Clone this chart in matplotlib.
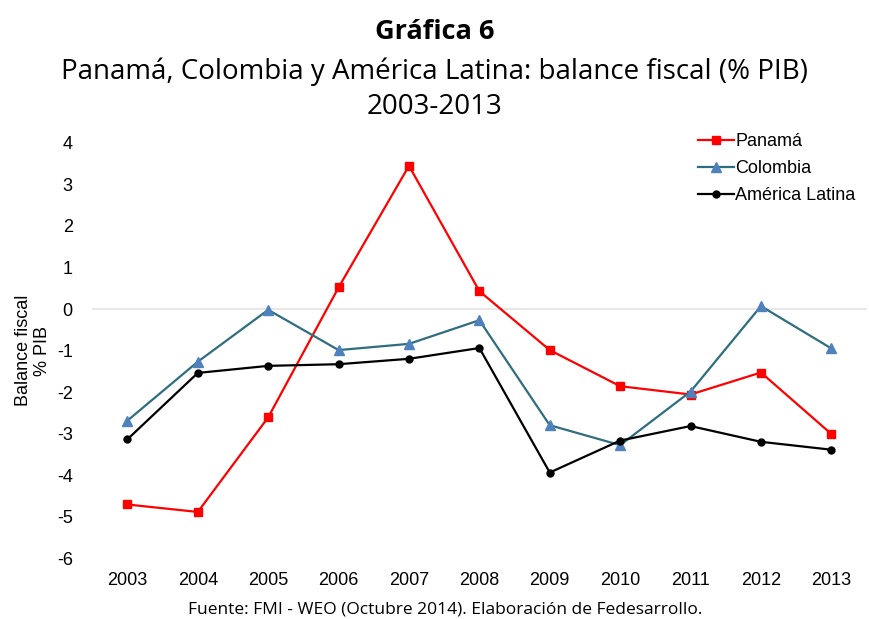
import matplotlib.pyplot as plt
import numpy as np

years = list(range(2003, 2014))
panama = [-4.71, -4.89, -2.61, 0.52, 3.45, 0.43, -0.99, -1.86, -2.06, -1.53, -3.01]
colombia = [-2.69, -1.27, -0.02, -0.99, -0.84, -0.27, -2.80, -3.28, -1.99, 0.07, -0.95]
america_latina = [-3.14, -1.54, -1.37, -1.33, -1.20, -0.94, -3.94, -3.17, -2.82, -3.20, -3.39]

plt.rcParams['font.family'] = ['Liberation Sans', 'DejaVu Sans']
plt.rcParams['axes.unicode_minus'] = False

fig = plt.figure(figsize=(8.7, 6.19), dpi=100)
ax = fig.add_axes([0.106, 0.0985, 0.89, 0.6705])

ax.plot(years, panama, color='#FF0000', lw=1.6, marker='s', ms=6,
        label='Panamá')
ax.plot(years, colombia, color='#2E6E7E', lw=1.6, marker='^', ms=6.5,
        mfc='#4F81BD', mec='#4F81BD', label='Colombia')
ax.plot(years, america_latina, color='black', lw=1.6, marker='o', ms=5,
        label='América Latina')

ax.axhline(0, color='#E3E3E3', lw=1.2, zorder=0)
ax.set_xlim(2002.5, 2013.5)
ax.set_ylim(-6, 4)
ax.set_xticks(years)
ax.set_yticks(range(-6, 5))
ax.tick_params(length=0, labelsize=13, pad=10)
ax.tick_params(axis='y', pad=14)
for s in ax.spines.values():
    s.set_visible(False)

ax.set_ylabel('Balance fiscal\n% PIB', fontsize=13, labelpad=4, linespacing=1.15)

ax.legend(loc='upper right', bbox_to_anchor=(1.0, 1.05), frameon=False,
          fontsize=13, handlelength=2.0, handletextpad=0.1,
          labelspacing=0.55, borderaxespad=0.2)

tfont = ['Open Sans', 'DejaVu Sans']
fig.text(0.5, 0.948, 'Gráfica 6', ha='center', va='center', fontsize=19.5,
         fontweight='bold', family=tfont)
fig.text(0.5, 0.884, 'Panamá, Colombia y América Latina: balance fiscal (% PIB)',
         ha='center', va='center', fontsize=20, family=tfont)
fig.text(0.5, 0.827, '2003-2013', ha='center', va='center', fontsize=20,
         family=tfont)
fig.text(0.512, 0.003, 'Fuente: FMI - WEO (Octubre 2014). Elaboración de Fedesarrollo.',
         ha='center', va='bottom', fontsize=12.5, family=tfont)

plt.savefig('out.png', dpi=100)
